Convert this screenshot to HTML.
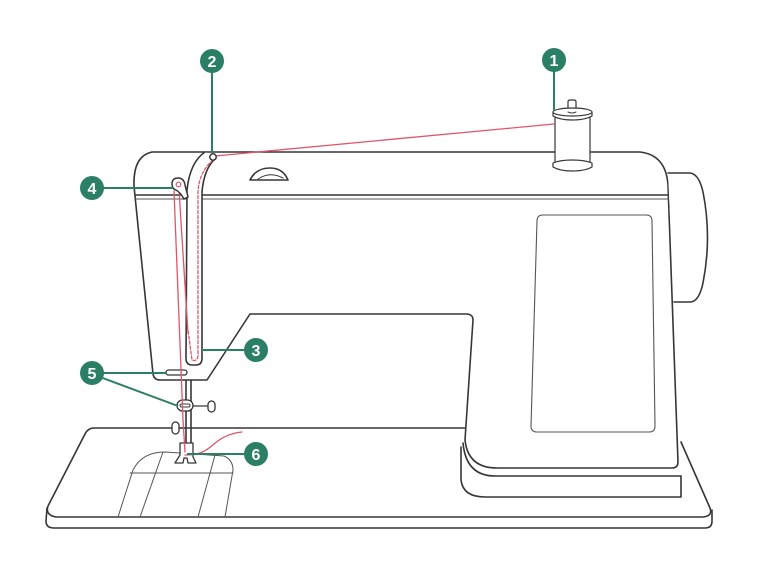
<!DOCTYPE html>
<html><head><meta charset="utf-8"><style>
html,body{margin:0;padding:0;background:#fff;}
svg{display:block;}
</style></head><body>
<svg width="762" height="562" viewBox="0 0 762 562" xmlns="http://www.w3.org/2000/svg">
<rect width="762" height="562" fill="#fff"/>
<g fill="none" stroke="#363636" stroke-width="1.6" stroke-linejoin="round" stroke-linecap="round">
  <!-- bed surface -->
  <path d="M466,428 L94,428 Q88,428 85,434 L48,506 Q45,515 56,517 L703,517 Q713,516 710,508 L681,442" fill="#fff"/>
  <!-- bed front face -->
  <path d="M47,508 L46,521 Q46,528 54,528 L705,528 Q712,528 712,521 L712,510"/>
  <!-- foot plate -->
  <g stroke="#555" stroke-width="1">
    <path d="M118,517 L133,470 Q142,452 165,452 L224,456 Q233,460 233,470 L225,517"/>
    <path d="M130,473 L233,473"/>
    <path d="M163,452 L140,517"/>
    <path d="M215,455 L198,517"/>
  </g>
  <!-- pillar base -->
  <path d="M461,447 L461,480 Q463,497 485,497 L681,497 L681,476" fill="#fff"/>
  <path d="M463,443 Q466,476 495,476 L681,476"/>
  <!-- main body -->
  <path d="M152,152 L640,152 Q666,155 668,185 L678,462 Q678,468 672,468 L497,468 Q468,468 465,440 L473,320 Q473,314 466,314 L250,314 L207,380 L160,380 Q154,380 153,374 L134,186 Q133,156 152,152 Z" fill="#fff"/>
  <!-- handwheel -->
  <path d="M668,173 L690,173 Q699,174 703,192 Q712,237 703,283 Q699,302 690,302 L674,302" fill="#fff"/>
  <!-- horizontal double lines -->
  <path d="M136,195 L186,195 M202,195 L668,195"/>
  <path d="M136,199 L186,199 M202,199 L668,199" stroke-width="1" stroke="#555"/>
  <!-- window -->
  <path d="M543,215 L646,215 Q652,215 652,221 L655,426 Q655,432 649,432 L537,432 Q531,432 531,426 L537,221 Q537,215 543,215 Z" stroke="#555" stroke-width="1.1"/>
  <!-- bobbin dome -->
  <path d="M250,180 Q256,168 270,168 Q283,168 288,180 Z" fill="#fff"/>
  <path d="M258,179 Q270,171 283,178" stroke-width="1"/>
  <!-- slot -->
  <path d="M205,152 Q190,162 187,190 L186,358 Q186,365 192,365 L196,365 Q202,365 202,358 L202,192 Q204,168 216,158" fill="#fff"/>
  <!-- needle bar -->
  <path d="M186,380 L186,443 M191,380 L191,443"/>
  <!-- oval slot on head bottom -->
  <rect x="166" y="370" width="21" height="5" rx="2.5" fill="#fff" stroke-width="1.3"/>
  <!-- needle clamp -->
  <path d="M192,406 L207,406" stroke-width="1.3"/>
  <rect x="208" y="401" width="7" height="11" rx="3.5" fill="#fff" stroke-width="1.3"/>
  <rect x="177" y="400" width="16" height="11" rx="5.5" fill="#fff" stroke-width="1.3"/>
  <rect x="180" y="404" width="10" height="3" rx="1.5" stroke-width="1"/>
  <!-- left knob -->
  <path d="M180,428 L186,428" stroke-width="1.3"/>
  <rect x="172" y="422" width="7" height="12" rx="3.5" fill="#fff" stroke-width="1.3"/>
  <!-- presser foot -->
  <path d="M180,443 L193,443 L193,457 L196,463 L188,463 L187,458 L184,458 L183,463 L175,463 L180,455 Z" fill="#fff" stroke-width="1.3"/>
  <!-- spool -->
  <path d="M568,112 L568,102 Q568,100 570,100 L574,100 Q576,100 576,102 L576,112" fill="#fff" stroke-width="1.2"/>
  <path d="M555,117 L555,163 L590,163 L590,117" fill="#fff" stroke-width="1.2"/>
  <path d="M553,163 L553,167 Q560,171 572,171 Q585,171 592,167 L592,163 Q585,160 572,160 Q560,160 553,163 Z" fill="#fff" stroke-width="1.2"/>
  <path d="M553,112 L553,116 Q560,120 572,120 Q585,120 592,116 L592,112" fill="#fff" stroke-width="1.2"/>
  <ellipse cx="572.5" cy="112" rx="19.5" ry="4" fill="#fff" stroke-width="1.2"/>
  <path d="M568,112 Q572,114 576,112" stroke-width="1"/>
</g>
<!-- threads -->
<g fill="none" stroke="#e0566b" stroke-width="1.3" stroke-linecap="round">
  <path d="M554,124 L215,156"/>
  <path d="M213,160 Q199,172 198,192 L198,356 Q197,362 192,360 L188,330" stroke-dasharray="3 2"/>
  <path d="M179,190 L188,333"/>
  <path d="M174,191 L183,420 L185,452"/>
  <path d="M185,455 C199,455 205,452 214,444 C222,437 232,433 242,432"/>
</g>
<!-- thread guide & take-up lever -->
<g stroke="#363636" stroke-width="1.5" fill="#fff">
  <circle cx="213" cy="157" r="3.2"/>
  <path d="M172,184 Q172,178 178,178 Q184,178 185,185 L188,197 L184,199 Q180,192 176,190 Q172,189 172,184 Z"/>
  <circle cx="178.5" cy="184.5" r="2.3" stroke="#e0566b" stroke-width="1.2"/>
</g>
<!-- leader lines -->
<g stroke="#2b7f66" stroke-width="2" fill="none">
  <path d="M554,70 L554,110"/>
  <path d="M212,70 L212,152"/>
  <path d="M100,188 L173,188"/>
  <path d="M248,350 L202,350"/>
  <path d="M100,373 L166,373"/>
  <path d="M100,377 L178,406"/>
  <path d="M248,454 L187,454"/>
</g>
<g fill="#2b7f66">
  <circle cx="554" cy="60" r="12"/>
  <circle cx="212" cy="61" r="12"/>
  <circle cx="92" cy="188" r="12"/>
  <circle cx="256" cy="350" r="12"/>
  <circle cx="92" cy="373" r="12"/>
  <circle cx="256" cy="454" r="12"/>
</g>
<g fill="#fff" font-family="Liberation Sans, sans-serif" font-weight="bold" font-size="16" text-anchor="middle">
  <text x="554" y="66">1</text>
  <text x="212" y="67">2</text>
  <text x="92" y="194">4</text>
  <text x="256" y="356">3</text>
  <text x="92" y="379">5</text>
  <text x="256" y="460">6</text>
</g>
</svg>
</body></html>
